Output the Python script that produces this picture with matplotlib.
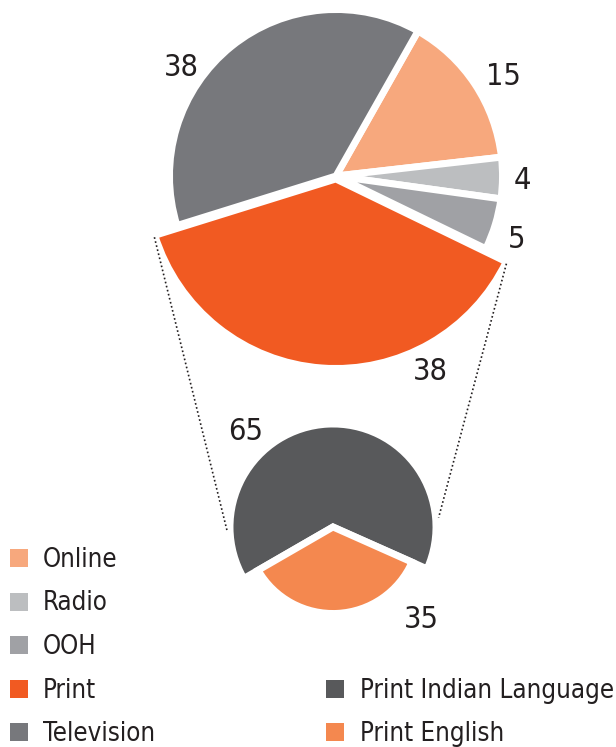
import matplotlib
matplotlib.use("Agg")
import matplotlib.pyplot as plt
import numpy as np
from matplotlib.patches import Rectangle

plt.rcParams["font.family"] = ["DejaVu Sans"]
plt.rcParams["font.stretch"] = "condensed"

# Main pie: media share
media = ["Online", "Radio", "OOH", "Print", "Television"]
media_share = [15, 4, 5, 38, 38]
media_colors = ["#f7a87d", "#bcbec0", "#a0a1a5", "#f15a22", "#77787c"]

# Breakdown of print
print_parts = ["Print Indian Language", "Print English"]
print_share = [65, 35]
print_colors = ["#58595b", "#f4884f"]

H = 747  # figure height in px, used to flip image coordinates


def fy(y):
    return H - y


fig = plt.figure(figsize=(6.16, 7.47), dpi=100)
ax = fig.add_axes([0, 0, 1, 1])

text_color = "#231f20"

# main pie
main_c = (336, fy(176))
main_r = 166.5
print_r = 189.5
wedges, _ = ax.pie(
    media_share,
    colors=media_colors,
    startangle=60.5,
    counterclock=False,
    center=main_c,
    radius=main_r,
    explode=[0, 0, 0, 3, 0],
    wedgeprops=dict(edgecolor="white", linewidth=5),
    frame=True,
)
wedges[3].set_radius(print_r)

# sub pie for print
sub_c = (333, fy(527))
sub_r = 103
eng_r = 86.5
sub_wedges, _ = ax.pie(
    print_share,
    colors=print_colors,
    startangle=210,
    counterclock=False,
    center=sub_c,
    radius=sub_r,
    wedgeprops=dict(edgecolor="white", linewidth=5),
    frame=True,
)
sub_wedges[1].set_radius(eng_r)

ax.set_xlim(0, 616)
ax.set_ylim(0, H)
ax.set_aspect("equal")
ax.axis("off")

# dotted connectors between print slice and the breakdown pie
pw = wedges[3]
for a_main, a_sub in [(pw.theta1 + 0.5, 182), (pw.theta2 - 0.5, 5)]:
    x0 = pw.center[0] + (print_r + 1) * np.cos(np.radians(a_main))
    y0 = pw.center[1] + (print_r + 1) * np.sin(np.radians(a_main))
    x1 = sub_c[0] + (sub_r + 3) * np.cos(np.radians(a_sub))
    y1 = sub_c[1] + (sub_r + 3) * np.sin(np.radians(a_sub))
    ax.plot([x0, x1], [y0, y1], color=text_color, lw=1.2,
            linestyle=(0, (1, 1.5)))

# value labels (x, baseline y in px)
main_label_pos = [(503, 85), (522, 189), (517, 248), (430, 380), (181, 76)]
for v, (x, y) in zip(media_share, main_label_pos):
    ax.text(x, fy(y), str(v), ha="center", va="baseline", fontsize=22,
            color=text_color)

sub_label_pos = [(246, 440), (421, 628)]
for v, (x, y) in zip(print_share, sub_label_pos):
    ax.text(x, fy(y), str(v), ha="center", va="baseline", fontsize=22,
            color=text_color)

# legends
sq = 18
row0, step = 558, 43.5
for i, (name, col) in enumerate(zip(media, media_colors)):
    yc = row0 + i * step
    ax.add_patch(Rectangle((19 - sq / 2, fy(yc) - sq / 2), sq, sq,
                           facecolor=col, edgecolor="none"))
    ax.text(43, fy(yc + 9), name, ha="left", va="baseline", fontsize=18.5,
            color=text_color)

for i, (name, col) in enumerate(zip(print_parts, print_colors)):
    yc = row0 + (3 + i) * step
    ax.add_patch(Rectangle((335 - sq / 2, fy(yc) - sq / 2), sq, sq,
                           facecolor=col, edgecolor="none"))
    ax.text(360, fy(yc + 9), name, ha="left", va="baseline", fontsize=18.5,
            color=text_color)

plt.savefig("out.png", dpi=100)
